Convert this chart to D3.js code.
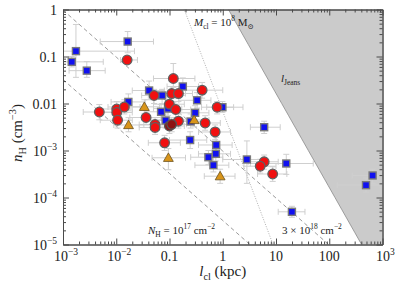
<!DOCTYPE html>
<html>
<head>
<meta charset="utf-8">
<script src="https://cdn.jsdelivr.net/npm/d3@7"></script>
<style>
  body { margin: 0; background: #fff; }
  svg { display: block; font-family: 'Liberation Serif', 'DejaVu Serif', serif; }
</style>
</head>
<body>
<div id="chart"></div>
<script>
// [l_cl (kpc), n_H (cm^-3), l_lo, l_hi, n_lo, n_hi]
const blueClouds = [
    [0.0164, 0.208, 0.005, 0.05, 0.12, 0.34],
    [0.00175, 0.13, 0.001, 0.022, 0.036, 0.48],
    [0.00146, 0.077, 0.001, 0.0057, 0.06, 0.1],
    [0.0028, 0.05, 0.0013, 0.0062, 0.036, 0.078],
    [0.0414, 0.0189, 0.02, 0.08, 0.012, 0.03],
    [0.178, 0.023, 0.09, 0.35, 0.015, 0.035],
    [0.0726, 0.0148, 0.04, 0.13, 0.01, 0.02],
    [0.0169, 0.0108, 0.008, 0.035, 0.007, 0.016],
    [0.33, 0.0117, 0.15, 0.6, 0.008, 0.017],
    [0.986, 0.00834, 0.5, 2.4, 0.0065, 0.011],
    [0.303, 0.00634, 0.15, 0.55, 0.0045, 0.009],
    [0.0695, 0.00666, 0.035, 0.13, 0.0045, 0.0095],
    [0.094, 0.0078, 0.05, 0.17, 0.0055, 0.011],
    [0.0845, 0.00435, 0.045, 0.16, 0.003, 0.006],
    [0.249, 0.00414, 0.12, 0.45, 0.003, 0.006],
    [0.244, 0.00167, 0.1, 0.5, 0.0011, 0.0025],
    [6.0, 0.00313, 3.3, 12, 0.0023, 0.0042],
    [0.752, 0.00131, 0.35, 1.5, 0.0009, 0.0019],
    [0.741, 0.00085, 0.35, 1.4, 0.0006, 0.0012],
    [0.538, 0.00072, 0.25, 1.0, 0.0005, 0.001],
    [0.668, 0.000487, 0.3, 1.3, 0.00035, 0.0007],
    [2.84, 0.000644, 1.0, 5.5, 0.0002, 0.0016],
    [15.6, 0.000529, 3.3, 50, 0.00031, 0.00083],
    [19.9, 4.96e-5, 11, 35, 3.8e-5, 6.5e-5],
    [652, 0.000294, 270, 1000, 0.0002, 0.0004],
    [490, 0.000183, 142, 900, 0.00013, 0.00026]
];

const redClouds = [
    [0.016, 0.0843, 0.012, 0.025, 0.07, 0.1],
    [0.118, 0.034, 0.05, 0.3, 0.022, 0.071],
    [0.0514, 0.0148, 0.03, 0.09, 0.01, 0.02],
    [0.110, 0.0163, 0.06, 0.2, 0.011, 0.023],
    [0.147, 0.0163, 0.08, 0.27, 0.011, 0.023],
    [0.41, 0.0192, 0.2, 1.0, 0.013, 0.028],
    [0.785, 0.00834, 0.4, 1.6, 0.006, 0.011],
    [0.00481, 0.00659, 0.0024, 0.01, 0.0045, 0.0095],
    [0.0102, 0.00764, 0.005, 0.02, 0.005, 0.011],
    [0.0102, 0.00644, 0.005, 0.02, 0.0045, 0.009],
    [0.0142, 0.00843, 0.007, 0.028, 0.006, 0.012],
    [0.0106, 0.00441, 0.005, 0.02, 0.003, 0.0065],
    [0.0363, 0.00504, 0.018, 0.07, 0.0035, 0.0072],
    [0.0995, 0.00966, 0.05, 0.19, 0.0068, 0.014],
    [0.131, 0.00745, 0.065, 0.25, 0.005, 0.011],
    [0.0536, 0.00357, 0.027, 0.1, 0.0025, 0.005],
    [0.0536, 0.00309, 0.027, 0.1, 0.0022, 0.0044],
    [0.147, 0.0042, 0.075, 0.28, 0.003, 0.006],
    [0.467, 0.00385, 0.23, 0.9, 0.0027, 0.0055],
    [0.719, 0.00248, 0.35, 1.4, 0.0017, 0.0035],
    [0.0809, 0.00146, 0.04, 0.16, 0.001, 0.0021],
    [6.0, 0.000575, 3, 11, 0.0004, 0.0008],
    [5.05, 0.000463, 2.5, 10, 0.00033, 0.00065],
    [8.67, 0.000316, 4.5, 16, 0.00022, 0.00045]
];

const darkRedClouds = [
    [0.0995, 0.00332, 0.05, 0.19, 0.0023, 0.0047],
    [0.11, 0.0036, 0.055, 0.21, 0.0025, 0.005]
];

const orangeClouds = [
    [0.0337, 0.0085, 0.018, 0.065, 0.006, 0.012],
    [0.017, 0.00349, 0.009, 0.033, 0.0025, 0.005],
    [0.29, 0.00446, 0.15, 0.55, 0.0032, 0.0062],
    [0.0953, 0.0007, 0.047, 0.2, 0.00039, 0.0011],
    [0.893, 0.000284, 0.45, 1.7, 0.0002, 0.0004]
];

const xMajor = [1e-3, 1e-2, 0.1, 1, 10, 100, 1e3];
const xTickLabels = [['10', '\u22123'], ['10', '\u22122'], ['0.1'], ['1'], ['10'], ['100'], ['10', '3']];
const yMajor = [1e-5, 1e-4, 1e-3, 0.01, 0.1, 1];
const yTickLabels = [['10', '\u22125'], ['10', '\u22124'], ['10', '\u22123'], ['0.01'], ['0.1'], ['1']];

// reference relations
const jeansCoef = 1.28;        // l_Jeans = 1.28 n^-1/2 kpc
const massCoef = 0.0068;       // n l^3 for M_cl = 1e8 Msun
const columnLow = 3.24e-5;     // n l for N_H = 1e17 cm^-2
const columnHigh = 9.72e-4;    // n l for N_H = 3e18 cm^-2

const width = 395, height = 284;
const margin = { top: 9.5, right: 12.5, bottom: 39.5, left: 63 };

const svg = d3.select('#chart').append('svg')
    .attr('width', width)
    .attr('height', height);

const x = d3.scaleLog().domain([1e-3, 1e3]).range([margin.left, width - margin.right]);
const y = d3.scaleLog().domain([1e-5, 1]).range([height - margin.bottom, margin.top]);

svg.append('defs').append('clipPath').attr('id', 'clip')
    .append('rect')
    .attr('x', margin.left).attr('y', margin.top)
    .attr('width', width - margin.left - margin.right)
    .attr('height', height - margin.top - margin.bottom);

const plot = svg.append('g').attr('clip-path', 'url(#clip)');

// Jeans-unstable region
const nGrid = d3.range(0, 5.01, 0.25).map(e => Math.pow(10, -e));
const jeansPts = nGrid.map(n => [jeansCoef / Math.sqrt(n), n]);
plot.append('path')
    .attr('d', d3.line().x(d => x(d[0])).y(d => y(d[1]))(
        jeansPts.concat([[1e3, 1e-5], [1e3, 1]])))
    .attr('fill', '#cbcbcb')
    .attr('stroke', 'none');
plot.append('path')
    .attr('d', d3.line().x(d => x(d[0])).y(d => y(d[1]))(jeansPts))
    .attr('fill', 'none')
    .attr('stroke', '#8a8a8a')
    .attr('stroke-width', 0.8);

// reference lines
const lGrid = d3.range(-3, 3.01, 0.25).map(e => Math.pow(10, e));
const refLine = (coef, pow, dash, color) => {
    plot.append('path')
        .attr('d', d3.line().x(d => x(d)).y(d => y(coef / Math.pow(d, pow)))(lGrid))
        .attr('fill', 'none')
        .attr('stroke', color)
        .attr('stroke-width', 0.8)
        .attr('stroke-dasharray', dash);
};
refLine(massCoef, 3, '1,1.5', '#9a9a9a');
refLine(columnLow, 1, '4,3', '#808080');
refLine(columnHigh, 1, '4,3', '#808080');

// error bars
const allClouds = blueClouds.concat(redClouds, darkRedClouds, orangeClouds);
const err = plot.append('g')
    .attr('stroke', '#cfcfcf')
    .attr('stroke-width', 1)
    .attr('fill', 'none');
const cap = 3;
allClouds.forEach(d => {
    const cx = x(d[0]), cy = y(d[1]);
    err.append('line').attr('x1', x(d[2])).attr('x2', x(d[3])).attr('y1', cy).attr('y2', cy);
    err.append('line').attr('x1', x(d[2])).attr('x2', x(d[2])).attr('y1', cy - cap).attr('y2', cy + cap);
    err.append('line').attr('x1', x(d[3])).attr('x2', x(d[3])).attr('y1', cy - cap).attr('y2', cy + cap);
    err.append('line').attr('x1', cx).attr('x2', cx).attr('y1', y(d[4])).attr('y2', y(d[5]));
    err.append('line').attr('x1', cx - cap).attr('x2', cx + cap).attr('y1', y(d[4])).attr('y2', y(d[4]));
    err.append('line').attr('x1', cx - cap).attr('x2', cx + cap).attr('y1', y(d[5])).attr('y2', y(d[5]));
});

// markers
plot.selectAll('rect.blue')
    .data(blueClouds)
    .join('rect')
    .attr('class', 'blue')
    .attr('x', d => x(d[0]) - 3.5)
    .attr('y', d => y(d[1]) - 3.5)
    .attr('width', 7)
    .attr('height', 7)
    .attr('fill', '#1010f0')
    .attr('stroke', '#7a7a7a')
    .attr('stroke-width', 1.4);

plot.selectAll('circle.red')
    .data(redClouds)
    .join('circle')
    .attr('class', 'red')
    .attr('cx', d => x(d[0]))
    .attr('cy', d => y(d[1]))
    .attr('r', 4.8)
    .attr('fill', '#f01010')
    .attr('stroke', '#606060')
    .attr('stroke-width', 1.3);

plot.selectAll('circle.darkred')
    .data(darkRedClouds)
    .join('circle')
    .attr('class', 'darkred')
    .attr('cx', d => x(d[0]))
    .attr('cy', d => y(d[1]))
    .attr('r', 4.8)
    .attr('fill', '#8e1414')
    .attr('stroke', '#555')
    .attr('stroke-width', 1.3);

plot.selectAll('path.orange')
    .data(orangeClouds)
    .join('path')
    .attr('class', 'orange')
    .attr('d', d3.symbol(d3.symbolTriangle, 42))
    .attr('transform', d => `translate(${x(d[0])},${y(d[1]) + 0.8})`)
    .attr('fill', '#d9951a')
    .attr('stroke', '#6a5020')
    .attr('stroke-width', 0.8);

// frame & ticks
const axisColor = '#4a4a4a';
const minor = (lo, hi) => {
    const out = [];
    for (let e = lo; e < hi; e++) for (let k = 2; k <= 9; k++) out.push(k * Math.pow(10, e));
    return out;
};
const xMinor = minor(-3, 3), yMinor = minor(-5, 0);

const drawAxis = (axis, transform) => {
    const g = svg.append('g').attr('transform', transform).call(axis);
    g.select('.domain').attr('stroke', axisColor);
    g.selectAll('.tick line').attr('stroke', axisColor);
    g.selectAll('.tick text').remove();
    return g;
};
const X0 = margin.left, X1 = width - margin.right, Y0 = height - margin.bottom, Y1 = margin.top;
drawAxis(d3.axisBottom(x).tickValues(xMinor).tickSize(-3).tickSizeOuter(0), `translate(0,${Y0})`);
drawAxis(d3.axisBottom(x).tickValues(xMajor).tickSize(-6).tickSizeOuter(0), `translate(0,${Y0})`);
drawAxis(d3.axisTop(x).tickValues(xMinor).tickSize(-3).tickSizeOuter(0), `translate(0,${Y1})`);
drawAxis(d3.axisTop(x).tickValues(xMajor).tickSize(-6).tickSizeOuter(0), `translate(0,${Y1})`);
drawAxis(d3.axisLeft(y).tickValues(yMinor).tickSize(-3).tickSizeOuter(0), `translate(${X0},0)`);
drawAxis(d3.axisLeft(y).tickValues(yMajor).tickSize(-6).tickSizeOuter(0), `translate(${X0},0)`);
drawAxis(d3.axisRight(y).tickValues(yMinor).tickSize(-3).tickSizeOuter(0), `translate(${X1},0)`);
drawAxis(d3.axisRight(y).tickValues(yMajor).tickSize(-6).tickSizeOuter(0), `translate(${X1},0)`);

// rich text helper: parts = [text, {i, sub, sup}]
function rich(sel, parts, size) {
    let shift = 0;
    parts.forEach(p => {
        const target = p.sup ? -0.42 * size : p.sub ? 0.28 * size : 0;
        const ts = sel.append('tspan').attr('dy', target - shift).text(p.t);
        shift = target;
        if (p.sup || p.sub) ts.attr('font-size', size * 0.68);
        if (p.i) ts.attr('font-style', 'italic');
    });
    return sel;
}
const label = (px, py, parts, size, anchor) => {
    const t = svg.append('text')
        .attr('x', px).attr('y', py)
        .attr('font-size', size)
        .attr('fill', '#222')
        .attr('text-anchor', anchor || 'start');
    return rich(t, parts, size);
};
const tickParts = arr => arr.length === 1 ? [{ t: arr[0] }] : [{ t: arr[0] }, { t: arr[1], sup: true }];

xMajor.forEach((v, i) => {
    label(x(v) + (xTickLabels[i].length > 1 ? 3 : 0), Y0 + 16, tickParts(xTickLabels[i]), 14, 'middle');
});
yMajor.forEach((v, i) => {
    label(X0 - 6, y(v) + 5, tickParts(yTickLabels[i]), 14, 'end');
});

// axis titles
label((X0 + X1) / 2, height - 8, [{ t: 'l', i: true }, { t: 'cl', sub: true }, { t: ' (kpc)' }], 15, 'middle');
const yt = svg.append('text')
    .attr('transform', `translate(22,${(Y0 + Y1) / 2 + 6}) rotate(-90)`)
    .attr('font-size', 15)
    .attr('fill', '#222')
    .attr('text-anchor', 'middle');
rich(yt, [{ t: 'n', i: true }, { t: 'H', sub: true }, { t: ' (cm' }, { t: '\u22123', sup: true }, { t: ')' }], 15);

// annotations
label(194, 26, [{ t: 'M', i: true }, { t: 'cl', sub: true }, { t: ' = 10' }, { t: '8', sup: true }, { t: ' M' }, { t: '\u2299', sub: true }], 11);
label(281, 82, [{ t: 'l', i: true }, { t: 'Jeans', sub: true }], 11);
label(148, 234, [{ t: 'N', i: true }, { t: 'H', sub: true }, { t: ' = 10' }, { t: '17', sup: true }, { t: ' cm' }, { t: '\u22122', sup: true }], 11);
label(282, 234, [{ t: '3 \u00d7 10' }, { t: '18', sup: true }, { t: ' cm' }, { t: '\u22122', sup: true }], 11);
</script>
</body>
</html>
